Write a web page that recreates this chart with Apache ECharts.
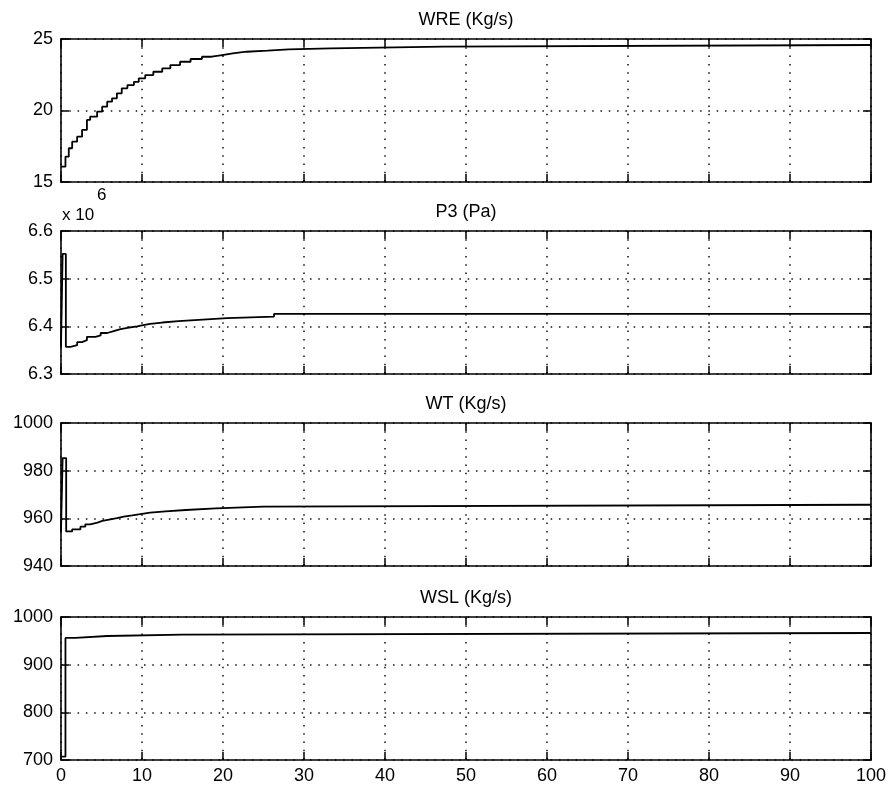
<!DOCTYPE html>
<html><head><meta charset="utf-8">
<script src="https://cdn.jsdelivr.net/npm/echarts@6/dist/echarts.min.js"></script>
<style>html,body{margin:0;padding:0;background:#fff}#c{width:890px;height:789px}</style>
</head><body><div id="c"></div>
<script>
// ---- data ----
const panelTitles = ['WRE (Kg/s)', 'P3 (Pa)', 'WT (Kg/s)', 'WSL (Kg/s)'];
const xTickLabels = ['0','10','20','30','40','50','60','70','80','90','100'];

const wreT = [0,0.55,0.96,1.38,1.99,2.6,3.2,3.6,4.46,5.08,5.7,6.3,6.9,7.5,8.2,9.0,9.6,10.4,11.4,12.5,13.5,14.7,16,17.4,18.6,19.9,21.2,22.9,25.5,28.1,33.3,47.2,100];
const wreV = [16.07,16.77,17.36,17.82,18.17,18.64,19.34,19.57,19.92,20.27,20.62,20.85,21.2,21.55,21.78,22.0,22.25,22.48,22.71,22.95,23.18,23.41,23.6,23.76,23.88,24.0,24.11,24.18,24.28,24.35,24.46,24.58,24.58];

// P3 values in units of 1e6 Pa
const p3T = [0,0.2,0.6,1.17,2.0,2.6,3.2,4.26,4.9,5.7,6.5,7.35,8.2,9.4,10.0,11.0,12.5,14.5,17,20.5,26.3,100];
const p3V = [6.357,6.552,6.357,6.3605,6.367,6.371,6.378,6.381,6.386,6.390,6.394,6.397,6.400,6.402,6.405,6.408,6.411,6.4137,6.4172,6.4205,6.426,6.426];

const wtT = [0,0.2,0.64,1.38,2.4,3.0,3.6,4.5,5.1,6.1,6.9,7.75,8.8,9.8,11,12.9,15.4,19.1,25,100];
const wtV = [954.5,985.3,954.5,955.4,956.5,957.5,958.2,958.9,959.6,960.1,960.7,961.25,961.8,962.4,962.9,963.5,964.2,964.9,965.7,965.7];

const wslT = [0,0.55,1.8,5.7,15,100];
const wslV = [707,956,960.1,962.9,966.4,966.4];

const yMins = [15, 6.3, 940, 700];
const yMaxs = [25, 6.6, 1000, 1000];
const yIntervals = [5, 0.1, 20, 100];
const yDecimals = [0, 1, 0, 0];

// ---- layout ----
const tops = [39, 231, 423, 617];
const plotH = 143, left = 61, plotW = 810;
const FONT = '"Liberation Sans", Arial, sans-serif';
const seriesData = [[wreT, wreV], [p3T, p3V], [wtT, wtV], [wslT, wslV]];

const grids = [], xAxes = [], yAxes = [], series = [], titles = [];
const dotted = { color: '#111', width: 1.5, type: [1.5, 6.8] };
const tick = { show: true, inside: true, length: 8, lineStyle: { color: '#000', width: 1.5 } };
const axLine = { show: true, onZero: false, lineStyle: { color: '#000', width: 1.6 } };

for (let i = 0; i < 4; i++) {
  grids.push({ left: left, top: tops[i], width: plotW, height: plotH });
  xAxes.push({
    type: 'value', gridIndex: i, min: 0, max: 100, interval: 10, position: 'bottom',
    axisLine: axLine, axisTick: tick,
    axisLabel: { show: i === 3, color: '#000', fontSize: 18, fontFamily: FONT, margin: 7,
      formatter: v => xTickLabels[Math.round(v / 10)] },
    splitLine: { show: true, lineStyle: dotted }
  });
  xAxes.push({
    type: 'value', gridIndex: i, min: 0, max: 100, interval: 10, position: 'top',
    axisLine: axLine, axisTick: tick, axisLabel: { show: false }, splitLine: { show: false }
  });
  const dec = yDecimals[i];
  yAxes.push({
    type: 'value', gridIndex: i, min: yMins[i], max: yMaxs[i], interval: yIntervals[i], position: 'left',
    axisLine: axLine, axisTick: tick,
    axisLabel: { color: '#000', fontSize: 18, fontFamily: FONT, margin: 8, formatter: v => v.toFixed(dec) },
    splitLine: { show: true, lineStyle: dotted }
  });
  yAxes.push({
    type: 'value', gridIndex: i, min: yMins[i], max: yMaxs[i], interval: yIntervals[i], position: 'right',
    axisLine: axLine, axisTick: tick, axisLabel: { show: false }, splitLine: { show: false }
  });
  const [ts, vs] = seriesData[i];
  series.push({
    type: 'line', xAxisIndex: 2 * i, yAxisIndex: 2 * i, step: 'end', showSymbol: false,
    symbol: 'none', lineStyle: { color: '#000', width: 1.8 }, silent: true,
    data: ts.map((t, k) => [t, vs[k]])
  });
  titles.push({
    text: panelTitles[i], left: left + plotW / 2, top: tops[i] - 28, padding: 0, textAlign: 'center',
    textStyle: { color: '#000', fontSize: 18, fontWeight: 'normal', fontFamily: FONT }
  });
}

const chart = echarts.init(document.getElementById('c'), null, { renderer: 'canvas' });
chart.setOption({
  animation: false,
  backgroundColor: '#fff',
  title: titles,
  grid: grids,
  xAxis: xAxes,
  yAxis: yAxes,
  series: series,
  graphic: [
    { type: 'text', left: 62, top: 207, style: { text: 'x 10', fill: '#000', font: '17px ' + FONT } },
    { type: 'text', left: 97, top: 187, style: { text: '6', fill: '#000', font: '17px ' + FONT } }
  ]
});
</script>
</body></html>
